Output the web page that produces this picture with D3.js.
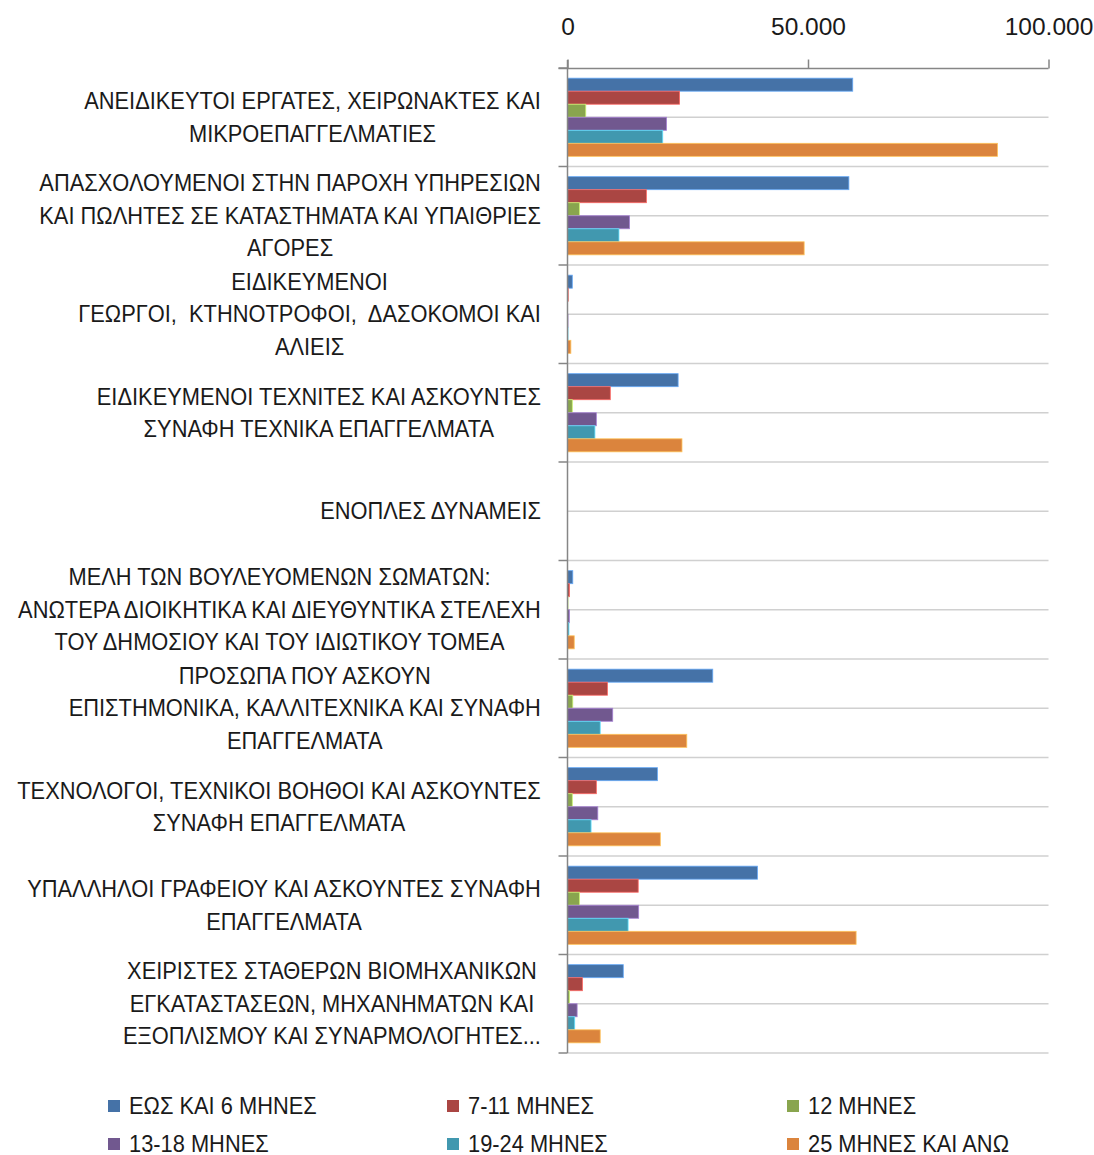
<!DOCTYPE html>
<html>
<head>
<meta charset="utf-8">
<script src="https://cdn.jsdelivr.net/npm/d3@7"></script>
<style>
  body { margin: 0; background: #fff; }
  svg text { font-family: "Liberation Sans", Arial, sans-serif; fill: #1a1a1a; white-space: pre; }
</style>
</head>
<body>
<svg id="chart"></svg>
<script>
// categories, each as the lines Excel wrapped it into
const categories = [
	["ΑΝΕΙΔΙΚΕΥΤΟΙ ΕΡΓΑΤΕΣ, ΧΕΙΡΩΝΑΚΤΕΣ ΚΑΙ", "ΜΙΚΡΟΕΠΑΓΓΕΛΜΑΤΙΕΣ"],
	["ΑΠΑΣΧΟΛΟΥΜΕΝΟΙ ΣΤΗΝ ΠΑΡΟΧΗ ΥΠΗΡΕΣΙΩΝ", "ΚΑΙ ΠΩΛΗΤΕΣ ΣΕ ΚΑΤΑΣΤΗΜΑΤΑ ΚΑΙ ΥΠΑΙΘΡΙΕΣ", "ΑΓΟΡΕΣ"],
	["ΕΙΔΙΚΕΥΜΕΝΟΙ", "ΓΕΩΡΓΟΙ,  ΚΤΗΝΟΤΡΟΦΟΙ,  ΔΑΣΟΚΟΜΟΙ ΚΑΙ", "ΑΛΙΕΙΣ"],
	["ΕΙΔΙΚΕΥΜΕΝΟΙ ΤΕΧΝΙΤΕΣ ΚΑΙ ΑΣΚΟΥΝΤΕΣ", "ΣΥΝΑΦΗ ΤΕΧΝΙΚΑ ΕΠΑΓΓΕΛΜΑΤΑ"],
	["ΕΝΟΠΛΕΣ ΔΥΝΑΜΕΙΣ"],
	["ΜΕΛΗ ΤΩΝ ΒΟΥΛΕΥΟΜΕΝΩΝ ΣΩΜΑΤΩΝ:", "ΑΝΩΤΕΡΑ ΔΙΟΙΚΗΤΙΚΑ ΚΑΙ ΔΙΕΥΘΥΝΤΙΚΑ ΣΤΕΛΕΧΗ", "ΤΟΥ ΔΗΜΟΣΙΟΥ ΚΑΙ ΤΟΥ ΙΔΙΩΤΙΚΟΥ ΤΟΜΕΑ"],
	["ΠΡΟΣΩΠΑ ΠΟΥ ΑΣΚΟΥΝ", "ΕΠΙΣΤΗΜΟΝΙΚΑ, ΚΑΛΛΙΤΕΧΝΙΚΑ ΚΑΙ ΣΥΝΑΦΗ", "ΕΠΑΓΓΕΛΜΑΤΑ"],
	["ΤΕΧΝΟΛΟΓΟΙ, ΤΕΧΝΙΚΟΙ ΒΟΗΘΟΙ ΚΑΙ ΑΣΚΟΥΝΤΕΣ", "ΣΥΝΑΦΗ ΕΠΑΓΓΕΛΜΑΤΑ"],
	["ΥΠΑΛΛΗΛΟΙ ΓΡΑΦΕΙΟΥ ΚΑΙ ΑΣΚΟΥΝΤΕΣ ΣΥΝΑΦΗ", "ΕΠΑΓΓΕΛΜΑΤΑ"],
	["ΧΕΙΡΙΣΤΕΣ ΣΤΑΘΕΡΩΝ ΒΙΟΜΗΧΑΝΙΚΩΝ", "ΕΓΚΑΤΑΣΤΑΣΕΩΝ, ΜΗΧΑΝΗΜΑΤΩΝ ΚΑΙ", "ΕΞΟΠΛΙΣΜΟΥ ΚΑΙ ΣΥΝΑΡΜΟΛΟΓΗΤΕΣ..."]
];

const seriesNames = ["ΕΩΣ ΚΑΙ 6 ΜΗΝΕΣ", "7-11 ΜΗΝΕΣ", "12 ΜΗΝΕΣ", "13-18 ΜΗΝΕΣ", "19-24 ΜΗΝΕΣ", "25 ΜΗΝΕΣ ΚΑΙ ΑΝΩ"];
const seriesColors = ["#4572A7", "#AA4643", "#89A54E", "#71588F", "#4198AF", "#DB843D"];

// values per series, one per category (same order as categories)
const upTo6 = [59300, 58500, 1000, 23000, 0, 1100, 30200, 18700, 39500, 11600];
const m7to11 = [23300, 16400, 150, 8900, 0, 400, 8300, 6000, 14700, 3100];
const m12 = [3800, 2500, 0, 1000, 0, 100, 1100, 1000, 2500, 400];
const m13to18 = [20600, 12900, 100, 6000, 0, 400, 9400, 6300, 14800, 2000];
const m19to24 = [19800, 10700, 100, 5700, 0, 300, 6800, 4900, 12600, 1500];
const m25plus = [89400, 49200, 700, 23800, 0, 1400, 24800, 19300, 60000, 6800];

const xTicks = [0, 50000, 100000];

const seriesValues = [upTo6, m7to11, m12, m13to18, m19to24, m25plus];

const width = 1094;
const height = 1155;
const sx = 0.95; // horizontal squeeze of the text

const svg = d3.select('#chart')
	.attr('width', width)
	.attr('height', height);

const greek = d3.formatLocale({ decimal: ",", thousands: ".", grouping: [3], currency: ["", "€"] });

const xScale = d3.scaleLinear().domain([0, 100000]).range([567.5, 1048.5]);
const yScale = d3.scaleBand()
	.domain(d3.range(categories.length))
	.range([68, 1053]);
const bw = yScale.bandwidth();
const sScale = d3.scaleBand()
	.domain(d3.range(seriesNames.length))
	.range([0, bw])
	.paddingOuter(0.78);

// gridlines at every category edge and middle
const gridYs = [];
categories.forEach((c, i) => {
	gridYs.push(yScale(i) + bw / 2);
	gridYs.push(yScale(i) + bw);
});
svg.append('g')
	.selectAll('line')
	.data(gridYs)
	.join('line')
	.attr('x1', xScale(0))
	.attr('x2', xScale(100000))
	.attr('y1', d => d)
	.attr('y2', d => d)
	.attr('stroke', '#d0d0d0')
	.attr('stroke-width', 1.6);

// bars
const groups = svg.append('g')
	.selectAll('g')
	.data(categories)
	.join('g')
	.attr('transform', (d, i) => `translate(0, ${yScale(i)})`);

groups.selectAll('rect')
	.data((d, i) => seriesValues.map((vals, s) => ({ s: s, v: vals[i] })))
	.join('rect')
	.filter(d => d.v > 0)
	.attr('x', xScale(0))
	.attr('y', d => sScale(d.s))
	.attr('width', d => xScale(d.v) - xScale(0))
	.attr('height', sScale.bandwidth())
	.attr('fill', d => seriesColors[d.s])
	.attr('stroke', d => d3.color(seriesColors[d.s]).brighter(1.1))
	.attr('stroke-width', 0.8);

// category axis: line plus ticks at category edges
svg.append('line')
	.attr('x1', xScale(0)).attr('x2', xScale(0))
	.attr('y1', 60).attr('y2', 1053)
	.attr('stroke', '#868686').attr('stroke-width', 1.5);
svg.append('g')
	.selectAll('line')
	.data(d3.range(categories.length + 1).map(i => 68 + i * bw))
	.join('line')
	.attr('x1', xScale(0) - 9)
	.attr('x2', xScale(0))
	.attr('y1', d => d)
	.attr('y2', d => d)
	.attr('stroke', '#868686')
	.attr('stroke-width', 1.5);

// value axis on top
const xAxis = d3.axisTop(xScale)
	.tickValues(xTicks)
	.tickSize(9)
	.tickSizeOuter(0)
	.tickPadding(25)
	.tickFormat(greek.format(",d"));

const ax = svg.append('g')
	.attr('class', 'x-axis')
	.attr('transform', 'translate(0, 68.5)')
	.call(xAxis);
ax.select('.domain')
	.attr('d', `M${xScale(0) - 9},0H${xScale(100000)}`)
	.attr('stroke', '#868686').attr('stroke-width', 1.5);
ax.selectAll('.tick line').attr('stroke', '#868686').attr('stroke-width', 1.5);
ax.selectAll('.tick text')
	.attr('font-size', 24.5)
	.style('font-family', '"Liberation Sans", Arial, sans-serif')
	.attr('fill', '#1a1a1a');

// category labels, lines centred on each other, block right-aligned
const lineH = 32.5;
const labels = svg.append('g');
categories.forEach((lines, i) => {
	const cy = yScale(i) + bw / 2;
	const g = labels.append('g');
	const texts = lines.map((ln, k) => g.append('text')
		.attr('font-size', 23)
		.attr('text-anchor', 'middle')
		.attr('dy', '0.35em')
		.text(ln));
	const maxW = d3.max(texts, t => t.node().getComputedTextLength()) * sx;
	const cx = 541 - maxW / 2;
	texts.forEach((t, k) => {
		const y = cy + (k - (lines.length - 1) / 2) * lineH;
		t.attr('transform', `translate(${cx}, ${y}) scale(${sx},1)`);
	});
});

// legend
const legend = svg.append('g');
seriesNames.forEach((name, s) => {
	const col = s % 3;
	const row = Math.floor(s / 3);
	const lx = [108, 447, 787][col];
	const ly = [1106, 1144][row];
	legend.append('rect')
		.attr('x', lx).attr('y', ly - 6)
		.attr('width', 12).attr('height', 12)
		.attr('fill', seriesColors[s]);
	legend.append('text')
		.attr('font-size', 23)
		.attr('dy', '0.35em')
		.attr('transform', `translate(${lx + 21}, ${ly}) scale(${sx},1)`)
		.text(name);
});
</script>
</body>
</html>
